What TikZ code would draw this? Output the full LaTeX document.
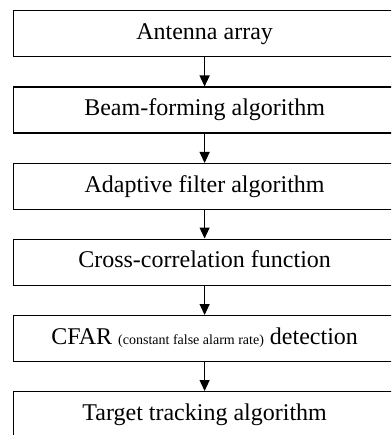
\documentclass[tikz,border=0pt]{standalone}
\usepackage{fontspec}
\setmainfont{Liberation Serif}
\usetikzlibrary{arrows.meta}
\begin{document}
\begin{tikzpicture}[x=1pt,y=-1pt,
  box/.style={draw, line width=1.2pt, minimum width=382pt, minimum height=46pt,
    inner sep=0pt, text height=16pt, text depth=5pt,
    font=\fontsize{24}{28}\selectfont, anchor=north west},
  arr/.style={-{Triangle[length=11pt,width=10pt]}, line width=1.2pt},
  small/.style={font=\fontsize{14}{16}\selectfont}]
\useasboundingbox (0,0) rectangle (391,435);
\clip (0,0) rectangle (391,435);
\node[box] (a) at (13,10) {Antenna array};
\node[box] (b) at (13,86.5) {Beam-forming algorithm};
\node[box] (c) at (13,163) {Adaptive filter algorithm};
\node[box] (d) at (13,238.5) {Cross-correlation function};
\node[box] (e) at (13,315) {CFAR {\fontsize{14}{16}\selectfont (constant false alarm rate)} detection};
\node[box] (f) at (13,391) {Target tracking algorithm};
\draw[arr] (a) -- (b);
\draw[arr] (b) -- (c);
\draw[arr] (c) -- (d);
\draw[arr] (d) -- (e);
\draw[arr] (e) -- (f);
\end{tikzpicture}
\end{document}
